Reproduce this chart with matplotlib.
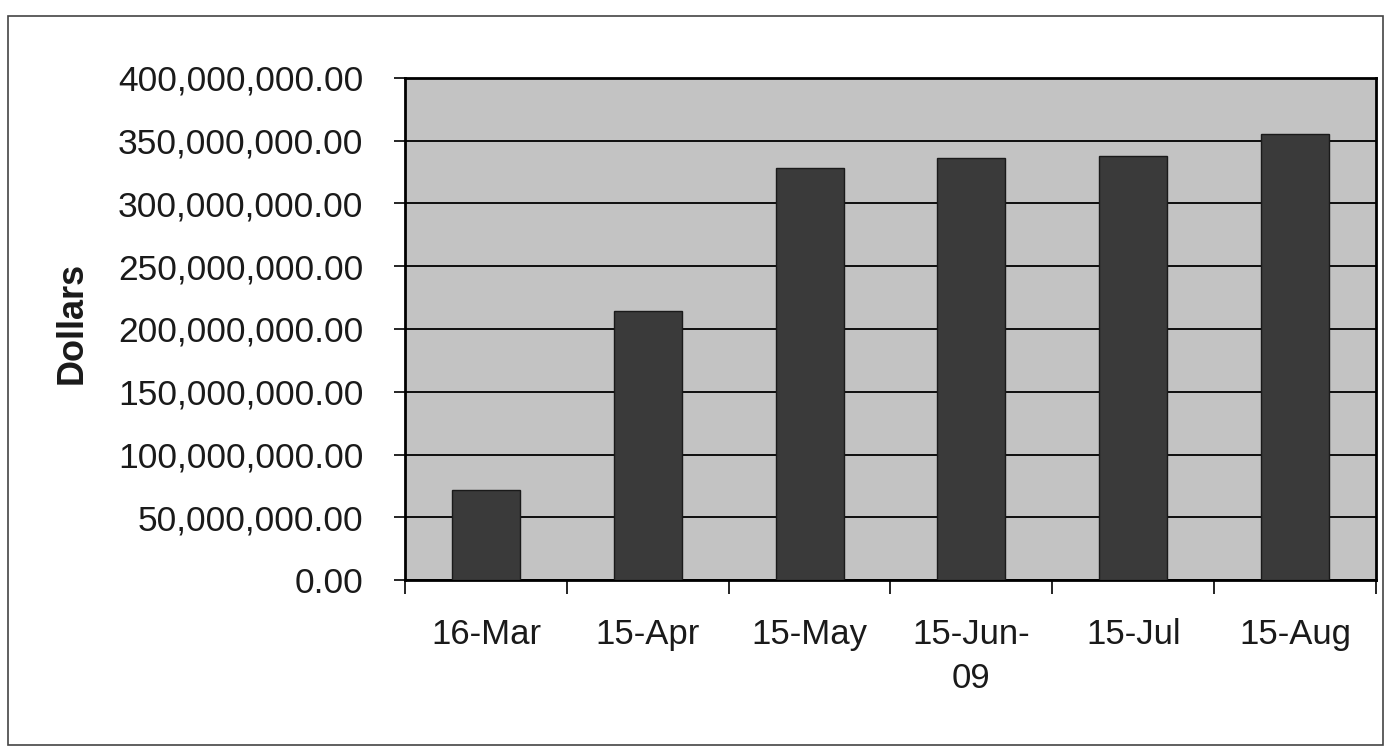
import numpy as np
import matplotlib.pyplot as plt
from matplotlib.ticker import FuncFormatter, FixedLocator
from matplotlib.patches import Rectangle

# =========================
# Data
# =========================
dates = ["16-Mar", "15-Apr", "15-May", "15-Jun-\n09", "15-Jul", "15-Aug"]
dollars = [72e6, 214e6, 328e6, 336e6, 338e6, 355e6]
y_ticks = np.arange(0, 400e6 + 1, 50e6)

plt.rcParams["font.family"] = ["Liberation Sans", "DejaVu Sans"]

fig = plt.figure(figsize=(13.89, 7.49), dpi=100)
ax = fig.add_axes([0.2916, 0.2256, 0.699, 0.6703])

x = np.arange(len(dates))
ax.bar(x, dollars, width=0.42, color="#3a3a3a", edgecolor="#1a1a1a", linewidth=1, zorder=3)

ax.set_facecolor("#c3c3c3")
ax.set_xlim(-0.5, len(dates) - 0.5)
ax.set_ylim(0, 400e6)
ax.set_yticks(y_ticks)
ax.yaxis.set_major_formatter(FuncFormatter(lambda v, p: f"{v:,.2f}"))
ax.yaxis.grid(True, color="black", linewidth=1.3, zorder=1)
ax.set_axisbelow(True)

ax.set_xticks(x)
ax.set_xticklabels(dates, linespacing=1.45)
ax.xaxis.set_minor_locator(FixedLocator(np.arange(-0.5, len(dates), 1)))
ax.tick_params(axis="x", which="major", length=0, pad=27, labelsize=25)
ax.tick_params(axis="x", which="minor", length=10, width=1.2, direction="out")
ax.tick_params(axis="y", length=8, width=1.2, pad=22, labelsize=25.5)
for lbl in ax.get_xticklabels() + ax.get_yticklabels():
    lbl.set_color("#1a1a1a")

for s in ax.spines.values():
    s.set_linewidth(2)
    s.set_color("black")

ax.set_ylabel("Dollars", fontsize=26, fontweight="bold", color="#1a1a1a")
ax.yaxis.set_label_coords(-0.3244, 0.512)

# outer chart frame
fig.patches.append(Rectangle((0.006, 0.006), 0.99, 0.972, transform=fig.transFigure,
                             fill=False, edgecolor="#444444", linewidth=1.2))

fig.savefig("out.png", dpi=100, facecolor="white")
